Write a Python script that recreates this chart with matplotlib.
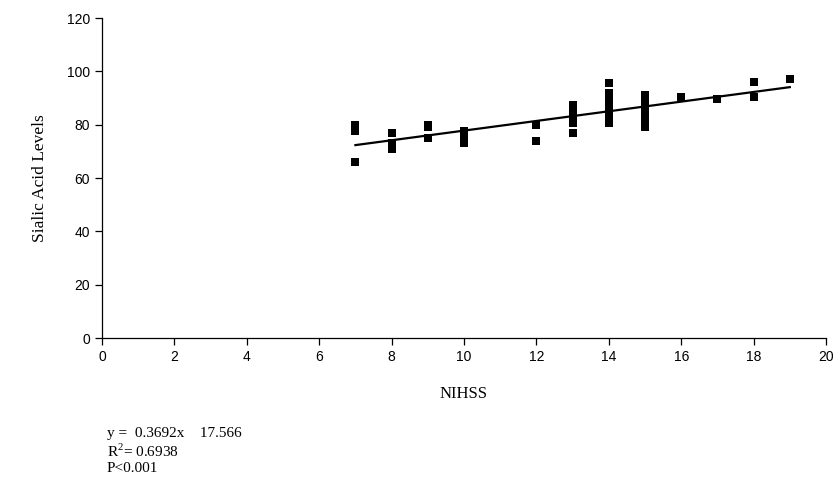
import numpy as np
import matplotlib
matplotlib.use("Agg")
import matplotlib.pyplot as plt

plt.rcParams['mathtext.fontset'] = 'custom'
plt.rcParams['mathtext.rm'] = 'Liberation Serif'

# NIHSS scores and sialic acid levels
nihss = [7, 7, 7,
         8, 8, 8, 8,
         9, 9, 9,
         10, 10, 10,
         12, 12,
         13, 13, 13, 13, 13, 13, 13,
         14, 14, 14, 14, 14, 14, 14, 14, 14, 14,
         15, 15, 15, 15, 15, 15, 15, 15, 15,
         16, 17, 18, 18, 19]
sialic = [80, 77.5, 66,
          77, 73, 72, 71,
          80, 79, 75,
          77.5, 76, 73,
          80, 74,
          87.5, 86, 84.5, 83, 81.5, 80.5, 77,
          95.5, 92, 90.5, 89, 87.5, 86, 84.5, 83, 81.5, 80.5,
          91, 89.5, 88, 86.5, 85, 83.5, 82, 80.5, 79,
          90.5, 89.5, 96, 90.5, 97]

x_ticks = [0, 2, 4, 6, 8, 10, 12, 14, 16, 18, 20]
y_ticks = [0, 20, 40, 60, 80, 100, 120]

eq_text = "y =  0.3692x    17.566"
r2_text = r"R$^{\mathrm{2}}$= 0.6938"
p_text = "P<0.001"

fig = plt.figure(figsize=(8.39, 4.96), dpi=100)
ax = fig.add_axes([0.1216, 0.3185, 0.8629, 0.6452])

ax.plot(nihss, sialic, linestyle='none', marker='s', markersize=5.2,
        color='black', markeredgewidth=0)

coef = np.polyfit(nihss, sialic, 1)
xl = np.array([min(nihss), max(nihss)])
ax.plot(xl, np.polyval(coef, xl), color='black', linewidth=1.6)

ax.set_xlim(0, 20)
ax.set_ylim(0, 120)
ax.set_xticks(x_ticks)
ax.set_yticks(y_ticks)
for s in ['top', 'right']:
    ax.spines[s].set_visible(False)
for s in ['left', 'bottom']:
    ax.spines[s].set_linewidth(0.9)
ax.tick_params(direction='out', length=5, width=0.9, labelsize=10)
for lab in ax.get_xticklabels() + ax.get_yticklabels():
    lab.set_family('Liberation Sans')

ax.set_xlabel("NIHSS", family='Liberation Serif', fontsize=12, labelpad=16)
ax.set_ylabel("Sialic Acid Levels", family='Liberation Serif', fontsize=12.5, labelpad=14)

fig.text(107/839, 1-433/496, eq_text, family='Liberation Serif', fontsize=11, va='center')
fig.text(107/839, 1-451/496, r2_text, family='Liberation Serif', fontsize=11, va='center')
fig.text(107/839, 1-469/496, p_text, family='Liberation Serif', fontsize=11, va='center')

fig.savefig("out.png", dpi=100)
